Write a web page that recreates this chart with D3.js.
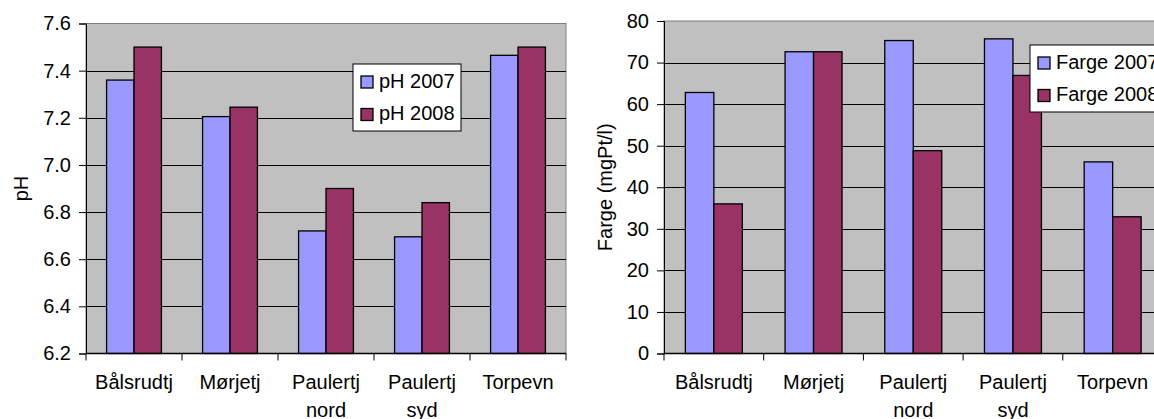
<!DOCTYPE html>
<html>
<head>
<meta charset="utf-8">
<script src="https://cdn.jsdelivr.net/npm/d3@7"></script>
<style>
  html, body { margin: 0; padding: 0; background: #fff; }
  svg { display: block; font-family: "Liberation Sans", Arial, sans-serif; }
</style>
</head>
<body>
<svg id="chart" width="1154" height="419"></svg>
<script>
const categories = ["Bålsrudtj", "Mørjetj", "Paulertj nord", "Paulertj syd", "Torpevn"];
const phSeries = ["pH 2007", "pH 2008"];
const ph2007 = [7.36, 7.205, 6.72, 6.695, 7.465];
const ph2008 = [7.50, 7.245, 6.90, 6.84, 7.50];
const phTicks = [6.2, 6.4, 6.6, 6.8, 7.0, 7.2, 7.4, 7.6];

const fargeSeries = ["Farge 2007", "Farge 2008"];
const farge2007 = [62.8, 72.6, 75.3, 75.7, 46.1];
const farge2008 = [36.0, 72.6, 48.8, 66.9, 32.9];
const fargeTicks = [0, 10, 20, 30, 40, 50, 60, 70, 80];

const colors = ["#9999FF", "#993366"];
const FS = 20;
const svg = d3.select("#chart");

function drawChart(cfg) {
  const g = svg.append("g");
  const { left, right, top, bottom } = cfg.plot;
  const x0 = d3.scaleBand().domain(categories).range([left, right]).padding(0);
  const x1 = d3.scaleBand().domain(cfg.series).range([0, x0.bandwidth()])
    .paddingInner(0).paddingOuter(0.75);
  const y = d3.scaleLinear().domain(cfg.domain).range([bottom, top]);

  // plot background
  g.append("rect").attr("x", left).attr("y", top)
    .attr("width", right - left).attr("height", bottom - top)
    .attr("fill", "#C0C0C0").attr("stroke", "#808080").attr("stroke-width", 1);

  // gridlines
  g.selectAll(".grid").data(cfg.ticks.slice(1, -1)).join("line")
    .attr("x1", left).attr("x2", right)
    .attr("y1", d => Math.round(y(d)) + 0.5).attr("y2", d => Math.round(y(d)) + 0.5)
    .attr("stroke", "#000").attr("stroke-width", 1);

  // bars
  const rows = categories.map((c, i) => ({ c, vals: cfg.values.map(v => v[i]) }));
  const grp = g.selectAll(".grp").data(rows).join("g")
    .attr("transform", d => `translate(${x0(d.c)},0)`);
  grp.selectAll("rect").data(d => d.vals.map((v, j) => ({ s: cfg.series[j], v, j }))).join("rect")
    .attr("x", d => x1(d.s))
    .attr("y", d => y(d.v))
    .attr("width", x1.bandwidth())
    .attr("height", d => bottom - y(d.v))
    .attr("fill", d => colors[d.j])
    .attr("stroke", "#000").attr("stroke-width", 1.3);

  // y axis
  const yAxis = d3.axisLeft(y).tickValues(cfg.ticks).tickSize(7).tickPadding(8)
    .tickFormat(cfg.fmt);
  const ya = g.append("g").attr("transform", `translate(${left},0)`).call(yAxis);
  ya.select(".domain").attr("stroke", "#000");
  ya.selectAll("line").attr("stroke", "#000");
  ya.selectAll("text").attr("font-size", FS).attr("fill", "#000")
    .attr("font-family", "Liberation Sans, Arial, sans-serif");

  // x axis line
  g.append("line").attr("x1", left).attr("x2", right)
    .attr("y1", bottom).attr("y2", bottom).attr("stroke", "#000").attr("stroke-width", 1.3);
  // category boundary ticks
  const bounds = categories.map(c => x0(c)).concat([right]);
  g.selectAll(".xt").data(bounds).join("line")
    .attr("x1", d => d).attr("x2", d => d)
    .attr("y1", bottom).attr("y2", bottom + 7)
    .attr("stroke", "#000");
  // category labels
  const lab = g.selectAll(".xl").data(categories).join("text")
    .attr("x", d => x0(d) + x0.bandwidth() / 2)
    .attr("y", 389)
    .attr("text-anchor", "middle").attr("font-size", FS).attr("fill", "#000");
  lab.selectAll("tspan").data(d => d.split(" ")).join("tspan")
    .attr("x", function () { return this.parentNode.getAttribute("x"); })
    .attr("dy", (d, i) => i === 0 ? 0 : 27.5)
    .text(d => d);

  // y title
  g.append("text")
    .attr("transform", `translate(${cfg.titleX},${(top + bottom) / 2}) rotate(-90)`)
    .attr("text-anchor", "middle").attr("font-size", FS).attr("fill", "#000")
    .text(cfg.title);

  // legend
  const L = cfg.legend;
  g.append("rect").attr("x", L.x).attr("y", L.y).attr("width", L.w).attr("height", L.h)
    .attr("fill", "#fff").attr("stroke", "#000").attr("stroke-width", 1);
  const li = g.selectAll(".li").data(cfg.series).join("g")
    .attr("transform", (d, i) => `translate(${L.x + 8},${L.y + 12 + i * 32.5})`);
  li.append("rect").attr("x", 0).attr("y", 0).attr("width", 12).attr("height", 12)
    .attr("fill", (d, i) => colors[i]).attr("stroke", "#000").attr("stroke-width", 1.3);
  li.append("text").attr("x", 18).attr("y", 11.5).attr("font-size", FS).attr("fill", "#000")
    .text(d => d);
}

drawChart({
  plot: { left: 86, right: 566, top: 23.5, bottom: 353.5 },
  domain: [6.2, 7.6], ticks: phTicks, fmt: d3.format(".1f"),
  series: phSeries, values: [ph2007, ph2008],
  title: "pH", titleX: 28,
  legend: { x: 353, y: 64, w: 108, h: 67 }
});

drawChart({
  plot: { left: 664, right: 1162.5, top: 21, bottom: 353.5 },
  domain: [0, 80], ticks: fargeTicks, fmt: d3.format("d"),
  series: fargeSeries, values: [farge2007, farge2008],
  title: "Farge (mgPt/l)", titleX: 612,
  legend: { x: 1030, y: 45, w: 140, h: 67 }
});
</script>
</body>
</html>
